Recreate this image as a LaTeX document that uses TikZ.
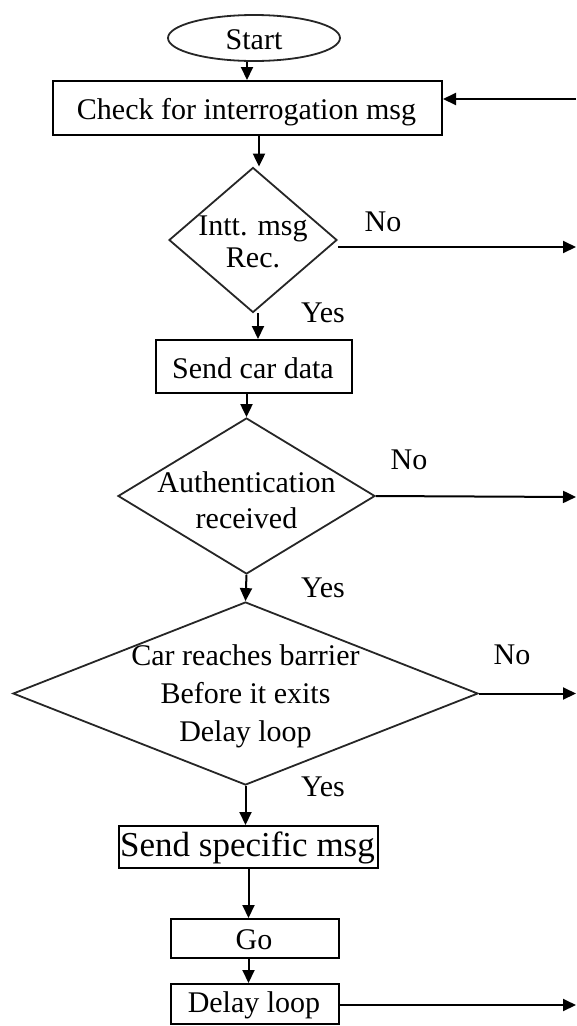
\documentclass[tikz,border=0pt]{standalone}
\usepackage{fontspec}
\setmainfont{Liberation Serif}
\usetikzlibrary{shapes.geometric,arrows.meta}

\tikzset{
  base/.style={font=\fontsize{30}{34}\selectfont, text=black},
  procbox/.style={draw=black, line width=2pt, inner sep=0pt, anchor=north west},
  decision/.style={draw=black!85, line width=1.8pt, shape=diamond, inner sep=0pt},
  termin/.style={draw=black!85, line width=1.8pt, shape=ellipse, inner sep=0pt},
  txt/.style={base, align=center, inner sep=0pt},
  lbl/.style={base, inner sep=0pt},
  arr/.style={draw=black, line width=2pt, -{Triangle[length=13pt,width=12pt]}},
}

\begin{document}
\begin{tikzpicture}[x=1pt,y=-1pt]
\useasboundingbox (0,0) rectangle (576,1026);

% Start terminal
\node[termin, minimum width=172pt, minimum height=46pt] (start) at (254,38) {};
\node[txt] (startt) at (254,40) {Start};

% Check for interrogation message
\node[procbox, minimum width=389pt, minimum height=54pt] (check) at (52,80) {};
\node[txt] (checkt) at (246.5,112) {Check for interrogation msg};

% Interrogation message received?
\node[decision, minimum width=168pt, minimum height=145pt] (d1) at (253,240) {};
\node[txt, font=\fontsize{30}{32}\selectfont] (d1t) at (253,242) {Intt. msg\\Rec.};

% Send car data
\node[procbox, minimum width=196pt, minimum height=53pt] (send) at (155,339) {};
\node[txt] (sendt) at (253,368) {Send car data};

% Authentication received?
\node[decision, minimum width=257pt, minimum height=156pt] (d2) at (246.5,496) {};
\node[txt, font=\fontsize{30}{36}\selectfont] (d2t) at (246.5,500) {Authentication\\received};

% Car reaches barrier?
\node[decision, minimum width=465pt, minimum height=183pt] (d3) at (245.5,693.5) {};
\node[txt, font=\fontsize{30}{38}\selectfont] (d3t) at (245.5,696) {Car reaches barrier\\Before it exits\\Delay loop};

% Send specific message
\node[procbox, minimum width=259pt, minimum height=42pt] (spec) at (118,825) {};
\node[txt, font=\fontsize{35}{40}\selectfont] (spect) at (247.5,848) {Send specific msg};

% Go
\node[procbox, minimum width=168pt, minimum height=39pt] (go) at (170,918) {};
\node[txt] (got) at (254,939.5) {Go};

% Delay loop
\node[procbox, minimum width=168pt, minimum height=40pt] (delay) at (170,983) {};
\node[txt] (delayt) at (254,1005) {Delay loop};

% Loose ends on the right border
\coordinate (inret) at (576,99);
\coordinate (out1) at (576,247);
\coordinate (out2) at (576,497);
\coordinate (out3) at (576,693.5);
\coordinate (out4) at (576,1005);

% Main flow
\draw[arr] ([xshift=-7pt]start.south) -- ([xshift=-7pt]start.south |- check.north);
\draw[arr] ([xshift=11.5pt]check.south) -- ([xshift=11.5pt]check.south |- d1.north);
\draw[arr] ([xshift=5pt]d1.south) -- ([xshift=5pt]d1.south |- send.north);
\draw[arr] (send.south -| d2.north) -- (d2.north);
\draw[arr] (d2.south) -- (d3.north);
\draw[arr] (d3.south) -- (d3.south |- spec.north);
\draw[arr] (spec.south) -- (spec.south |- go.north);
\draw[arr] (go.south -| spec.south) -- (spec.south |- delay.north);

% Branches leaving and entering on the right
\draw[arr] (inret) -- (inret -| check.east);
\draw[arr] (d1.east |- out1) -- (out1);
\draw[arr] (d2.east) -- (out2);
\draw[arr] (d3.east) -- (out3);
\draw[arr] (delay.east |- out4) -- (out4);

% Branch labels
\node[lbl] (no1) at (383,222) {No};
\node[lbl] (no2) at (409,460) {No};
\node[lbl] (no3) at (512,655) {No};
\node[lbl] (yes1) at (323,313) {Yes};
\node[lbl] (yes2) at (323,588) {Yes};
\node[lbl] (yes3) at (323,787) {Yes};
\end{tikzpicture}
\end{document}
